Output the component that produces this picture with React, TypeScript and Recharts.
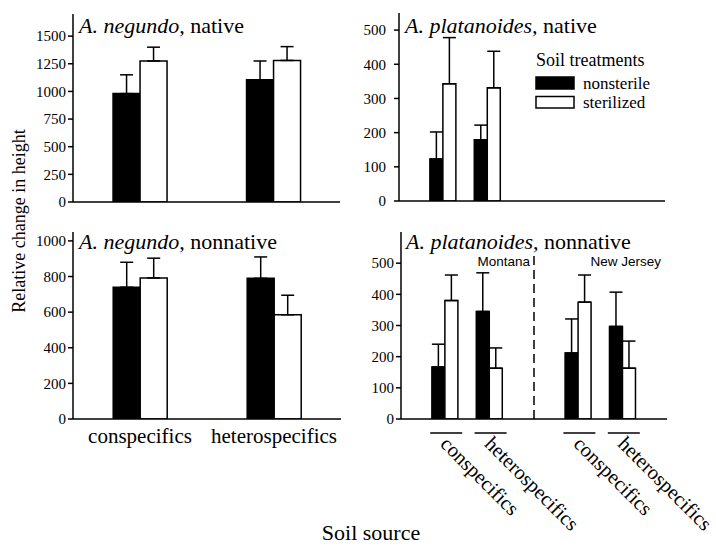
import React from 'react';
import { BarChart, Bar, XAxis, YAxis, ErrorBar, ReferenceLine } from 'recharts';

const SERIF = '"Liberation Serif", "Times New Roman", Times, serif';
const SANS = '"Liberation Sans", Arial, Helvetica, sans-serif';

// ---------- A. negundo ----------
const negundoCategories = ['conspecifics', 'heterospecifics'];

const negundoNativeNonsterile = [980, 1105];
const negundoNativeNonsterileErr = [170, 170];
const negundoNativeSterilized = [1275, 1280];
const negundoNativeSterilizedErr = [125, 125];
const negundoNativeTicks = [0, 250, 500, 750, 1000, 1250, 1500];

const negundoNonnativeNonsterile = [740, 790];
const negundoNonnativeNonsterileErr = [140, 120];
const negundoNonnativeSterilized = [792, 585];
const negundoNonnativeSterilizedErr = [111, 110];
const negundoNonnativeTicks = [0, 200, 400, 600, 800, 1000];

// ---------- A. platanoides ----------
const platanoidesIds = ['mt-con', 'mt-het', 'gap', 'nj-con', 'nj-het'];
const platanoidesLabels = ['conspecifics', 'heterospecifics', '', 'conspecifics', 'heterospecifics'];

const platanoidesNativeNonsterile = [123, 179, null, null, null];
const platanoidesNativeNonsterileErr = [79, 43, null, null, null];
const platanoidesNativeSterilized = [343, 331, null, null, null];
const platanoidesNativeSterilizedErr = [135, 107, null, null, null];
const platanoidesNativeTicks = [0, 100, 200, 300, 400, 500];

const platanoidesNonnativeNonsterile = [167, 345, null, 212, 297];
const platanoidesNonnativeNonsterileErr = [73, 124, null, 109, 110];
const platanoidesNonnativeSterilized = [380, 163, null, 375, 163];
const platanoidesNonnativeSterilizedErr = [82, 65, null, 87, 87];
const platanoidesNonnativeTicks = [0, 100, 200, 300, 400, 500];

const regionLabels = ['Montana', 'New Jersey'];
const legendItems = ['nonsterile', 'sterilized'];

type Row = {
  id: string;
  label: string;
  nonsterile: number | null;
  sterilized: number | null;
  nonsterileErr?: [number, number];
  sterilizedErr?: [number, number];
};

function buildRows(
  ids: string[],
  labels: string[],
  ns: (number | null)[],
  nsErr: (number | null)[],
  st: (number | null)[],
  stErr: (number | null)[]
): Row[] {
  return ids.map((id, i) => ({
    id,
    label: labels[i],
    nonsterile: ns[i],
    sterilized: st[i],
    nonsterileErr: ns[i] != null && nsErr[i] != null ? [0, nsErr[i] as number] : undefined,
    sterilizedErr: st[i] != null && stErr[i] != null ? [0, stErr[i] as number] : undefined,
  }));
}

const negundoNativeData = buildRows(negundoCategories, negundoCategories, negundoNativeNonsterile, negundoNativeNonsterileErr, negundoNativeSterilized, negundoNativeSterilizedErr);
const negundoNonnativeData = buildRows(negundoCategories, negundoCategories, negundoNonnativeNonsterile, negundoNonnativeNonsterileErr, negundoNonnativeSterilized, negundoNonnativeSterilizedErr);
const platanoidesNativeData = buildRows(platanoidesIds, platanoidesLabels, platanoidesNativeNonsterile, platanoidesNativeNonsterileErr, platanoidesNativeSterilized, platanoidesNativeSterilizedErr);
const platanoidesNonnativeData = buildRows(platanoidesIds, platanoidesLabels, platanoidesNonnativeNonsterile, platanoidesNonnativeNonsterileErr, platanoidesNonnativeSterilized, platanoidesNonnativeSterilizedErr);

const labelById: Record<string, string> = {};
platanoidesIds.forEach((id, i) => (labelById[id] = platanoidesLabels[i]));

const LW = 1.5;
const yTick = { fontFamily: SERIF, fontSize: 15, fill: '#000' };

const NegundoTick = (props: any) => {
  const { x, y, payload } = props;
  return (
    <text x={x} y={y + 24} textAnchor="middle" fontFamily={SERIF} fontSize={21} fill="#000">
      {payload.value}
    </text>
  );
};

const PlatTick = (props: any) => {
  const { x, y, payload } = props;
  const label = labelById[payload.value];
  if (!label) return <g />;
  const tx = x - 6;
  const ty = y + 26;
  return (
    <g>
      <line x1={x - 15} x2={x + 17} y1={y + 14} y2={y + 14} stroke="#000" strokeWidth={LW} />
      <text x={tx} y={ty} transform={`rotate(45 ${tx} ${ty})`} fontFamily={SERIF} fontSize={20.5} fill="#000">
        {label}
      </text>
    </g>
  );
};

function Panel(props: {
  data: Row[];
  width: number;
  height: number;
  margin: { top: number; right: number; bottom: number; left: number };
  yWidth: number;
  xHeight: number;
  domainMax: number;
  ticks: number[];
  xKey: string;
  tick: any;
  gap: string;
  yTickMargin?: number;
  padding?: { left: number; right: number };
  children?: React.ReactNode;
}) {
  const p = props;
  return (
    <BarChart width={p.width} height={p.height} data={p.data} margin={p.margin} barCategoryGap={p.gap} barGap={0}>
      <XAxis
        dataKey={p.xKey}
        type="category"
        height={p.xHeight}
        tick={p.tick}
        tickLine={false}
        tickSize={0}
        tickMargin={0}
        interval={0}
        padding={p.padding}
        axisLine={{ stroke: '#000', strokeWidth: LW }}
      />
      <XAxis
        xAxisId="top"
        dataKey={p.xKey}
        orientation="top"
        height={0}
        tick={false}
        tickLine={false}
        padding={p.padding}
        axisLine={{ stroke: '#000', strokeWidth: LW }}
      />
      <YAxis
        type="number"
        domain={[0, p.domainMax]}
        ticks={p.ticks}
        width={p.yWidth}
        tick={yTick}
        tickSize={5}
        tickMargin={p.yTickMargin ?? 2}
        tickLine={{ stroke: '#000', strokeWidth: LW }}
        axisLine={{ stroke: '#000', strokeWidth: LW }}
        allowDataOverflow
      />
      <YAxis
        yAxisId="right"
        orientation="right"
        type="number"
        domain={[0, p.domainMax]}
        width={0}
        tick={false}
        tickLine={false}
        axisLine={{ stroke: '#000', strokeWidth: LW }}
      />
      <Bar dataKey="nonsterile" fill="#000" stroke="#000" strokeWidth={LW} isAnimationActive={false}>
        <ErrorBar dataKey="nonsterileErr" width={6.5} stroke="#000" strokeWidth={LW} direction="y" />
      </Bar>
      <Bar dataKey="sterilized" fill="#fff" stroke="#000" strokeWidth={LW} isAnimationActive={false}>
        <ErrorBar dataKey="sterilizedErr" width={6.5} stroke="#000" strokeWidth={LW} direction="y" />
      </Bar>
      {p.children}
    </BarChart>
  );
}

export default function App() {
  const abs = (left: number, top: number): React.CSSProperties => ({ position: 'absolute', left, top });
  return (
    <div style={{ position: 'absolute', left: 0, top: 0, width: 716, height: 546, background: '#fff', overflow: 'hidden' }}>
      {/* Top-left */}
      <div style={abs(0, 0)}>
        <Panel
          data={negundoNativeData}
          width={350}
          height={215}
          margin={{ top: 14, right: 10, bottom: 0, left: 0 }}
          yWidth={73}
          xHeight={13}
          domainMax={1700}
          ticks={negundoNativeTicks}
          xKey="id"
          tick={false}
          gap="30%"
        />
      </div>
      {/* Top-right */}
      <div style={abs(350, 0)}>
        <Panel
          data={platanoidesNativeData}
          width={366}
          height={215}
          margin={{ top: 13, right: 51, bottom: 0, left: 0 }}
          yWidth={49}
          xHeight={14}
          domainMax={550}
          ticks={platanoidesNativeTicks}
          xKey="id"
          tick={false}
          gap="20%"
          yTickMargin={8}
          padding={{ left: 22, right: 22 }}
        />
      </div>
      {/* Bottom-left */}
      <div style={abs(0, 220)}>
        <Panel
          data={negundoNonnativeData}
          width={350}
          height={240}
          margin={{ top: 12, right: 9, bottom: 0, left: 0 }}
          yWidth={73}
          xHeight={41}
          domainMax={1050}
          ticks={negundoNonnativeTicks}
          xKey="id"
          tick={NegundoTick}
          gap="30%"
        />
      </div>
      {/* Bottom-right */}
      <div style={abs(350, 220)}>
        <Panel
          data={platanoidesNonnativeData}
          width={366}
          height={326}
          margin={{ top: 12, right: 49, bottom: 0, left: 0 }}
          yWidth={51}
          xHeight={127}
          domainMax={600}
          ticks={platanoidesNonnativeTicks}
          xKey="id"
          tick={PlatTick}
          gap="20%"
          padding={{ left: 22, right: 22 }}
        >
          <ReferenceLine
            segment={[{ x: 'gap', y: 0 }, { x: 'gap', y: 525 }]}
            stroke="#000"
            strokeWidth={LW}
            strokeDasharray="9 5"
            ifOverflow="visible"
          />
        </Panel>
      </div>

      {/* Text overlay */}
      <svg width={716} height={546} style={{ position: 'absolute', left: 0, top: 0, pointerEvents: 'none' }}>
        <g fontFamily={SERIF} fill="#000">
          <text x={79} y={33} fontSize={22}>
            <tspan fontStyle="italic">A. negundo,</tspan>
            <tspan> native</tspan>
          </text>
          <text x={405} y={33} fontSize={22}>
            <tspan fontStyle="italic">A. platanoides,</tspan>
            <tspan> native</tspan>
          </text>
          <text x={79} y={249} fontSize={22}>
            <tspan fontStyle="italic">A. negundo,</tspan>
            <tspan> nonnative</tspan>
          </text>
          <text x={406} y={249} fontSize={22}>
            <tspan fontStyle="italic">A. platanoides,</tspan>
            <tspan> nonnative</tspan>
          </text>

          {/* Legend */}
          <text x={536} y={66} fontSize={18}>Soil treatments</text>
          <rect x={536} y={77} width={38} height={12} fill="#000" stroke="#000" strokeWidth={LW} />
          <text x={583} y={89} fontSize={17}>{legendItems[0]}</text>
          <rect x={536} y={96.5} width={38} height={11.5} fill="#fff" stroke="#000" strokeWidth={LW} />
          <text x={583} y={108} fontSize={17}>{legendItems[1]}</text>

          {/* Axis titles */}
          <text x={25} y={221} fontSize={18} textAnchor="middle" transform="rotate(-90 25 221)">
            Relative change in height
          </text>
          <text x={371} y={540} fontSize={22} textAnchor="middle">Soil source</text>
        </g>
        <g fontFamily={SANS} fill="#000" fontSize={13.5}>
          <text x={530} y={266} textAnchor="end">{regionLabels[0]}</text>
          <text x={661} y={266} textAnchor="end">{regionLabels[1]}</text>
        </g>
      </svg>
    </div>
  );
}
